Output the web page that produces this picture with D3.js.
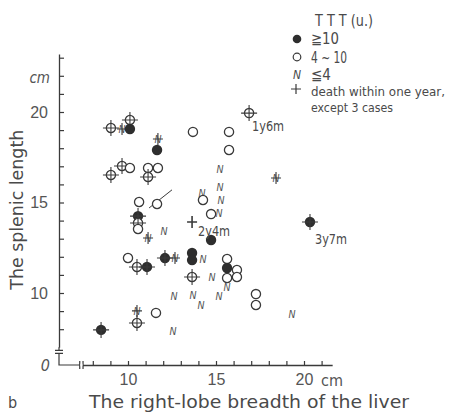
<!DOCTYPE html>
<html>
<head>
<meta charset="utf-8">
<script src="https://cdn.jsdelivr.net/npm/d3@7"></script>
<style>
  body { margin: 0; background: #fff; }
  svg { display: block; font-family: "DejaVu Sans", sans-serif; font-stretch: condensed; }
</style>
</head>
<body>
<svg id="chart" width="450" height="412"></svg>
<script>
// valores (cm)
const liverBreadth = [9.03, 9.66, 10.11, 10.11, 11.70, 11.65, 9.66, 10.11, 9.03, 11.14,
  11.70, 11.14, 11.65, 10.63, 10.57, 10.57, 10.57, 13.69, 15.74, 15.74,
  16.88, 15.23, 15.23, 15.28, 14.20, 14.26, 14.72, 15.17, 18.41, 13.64,
  14.72, 20.34, 12.05, 11.14, 10.00, 10.51, 11.08, 12.10, 12.67, 13.64,
  13.64, 14.26, 13.64, 14.77, 13.69, 14.15, 15.17, 15.63, 15.63, 16.19,
  16.19, 15.63, 15.63, 17.27, 17.27, 19.32, 12.61, 10.51, 11.59, 10.51,
  12.56, 8.47];
const splenicLength = [19.12, 19.06, 19.56, 19.06, 18.51, 17.90, 17.02, 16.91, 16.52, 16.91,
  16.91, 16.41, 14.92, 15.03, 14.25, 13.87, 13.54, 18.90, 18.90, 17.90,
  19.94, 16.85, 15.86, 15.13, 15.52, 15.14, 14.36, 14.42, 16.35, 13.92,
  12.93, 13.92, 13.43, 13.04, 11.93, 11.44, 11.44, 11.93, 11.93, 12.21,
  11.82, 11.88, 10.88, 10.88, 9.89, 9.34, 9.83, 11.88, 11.38, 11.27,
  10.88, 10.83, 10.33, 9.94, 9.34, 8.84, 9.83, 9.01, 8.90, 8.34,
  7.90, 7.96];
// TTT: "hi" >=10, "mid" 4~10, "lo" <=4, "" sem grupo
const tttGroup = ["mid", "lo", "mid", "hi", "lo", "hi", "mid", "mid", "mid", "mid",
  "mid", "mid", "mid", "mid", "hi", "mid", "mid", "mid", "mid", "mid",
  "mid", "lo", "lo", "lo", "lo", "mid", "mid", "lo", "lo", "",
  "hi", "hi", "lo", "lo", "mid", "mid", "hi", "hi", "lo", "hi",
  "hi", "lo", "mid", "lo", "lo", "lo", "lo", "mid", "hi", "mid",
  "mid", "mid", "lo", "mid", "mid", "lo", "lo", "lo", "mid", "mid",
  "lo", "hi"];
const diedWithinYear = [1, 1, 1, 0, 1, 0, 1, 0, 1, 0,
  0, 1, 0, 0, 1, 1, 0, 0, 0, 0,
  1, 0, 0, 0, 0, 0, 0, 0, 1, 1,
  0, 1, 0, 1, 0, 1, 1, 1, 1, 0,
  0, 0, 1, 0, 0, 0, 0, 0, 0, 0,
  0, 0, 0, 0, 0, 0, 0, 1, 0, 1,
  0, 1];
const noteX = [16.88, 13.64, 20.34];
const noteY = [19.94, 13.92, 13.92];
const noteText = ["1y6m", "2y4m", "3y7m"];
const handStroke = [[11.2, 14.7], [12.5, 15.7]];
const xTicks = [8, 9, 10, 11, 12, 13, 14, 15, 16, 17, 18, 19, 20, 21];
const yTicks = [8, 9, 10, 11, 12, 13, 14, 15, 16, 17, 18, 19, 20, 21, 22, 23];
const labelledTicks = [10, 15, 20];
const legendItems = ["≧10", "4 ~ 10", "≦4", "death within one year,", "except 3 cases"];

const ink = "#3a3a3a";
const txt = "#4a4a4a";
const svg = d3.select("#chart");

const x = d3.scaleLinear().domain([7.4, 21.6]).range([128 - 2.6 * 17.6, 128 + 11.6 * 17.6]);
const y = d3.scaleLinear().domain([7.0, 23.2]).range([293 + 3 * 18.1, 293 - 13.2 * 18.1]);

const axisX = 59, axisY = 365;

// eixo y
const gy = svg.append("g").attr("transform", `translate(${axisX},0)`);
gy.call(d3.axisLeft(y).tickValues(yTicks).tickSizeInner(-5).tickSizeOuter(0).tickPadding(11)
  .tickFormat(d => labelledTicks.includes(d) ? d : ""));
gy.select(".domain").attr("stroke", ink).attr("stroke-width", 1.3);
gy.selectAll(".tick line").attr("stroke", ink).attr("stroke-width", 1.2);
gy.selectAll(".tick text").attr("fill", "#555").attr("font-size", 16).attr("font-family", "inherit");

// eixo x
const gx = svg.append("g").attr("transform", `translate(0,${axisY})`);
gx.call(d3.axisBottom(x).tickValues(xTicks).tickSizeInner(-4).tickSizeOuter(0).tickPadding(9)
  .tickFormat(d => labelledTicks.includes(d) ? d : ""));
gx.select(".domain").attr("stroke", ink).attr("stroke-width", 1.3);
gx.selectAll(".tick line").attr("stroke", ink).attr("stroke-width", 1.2);
gx.selectAll(".tick text").attr("fill", "#555").attr("font-size", 16).attr("font-family", "inherit");

// quebras dos eixos
const brk = svg.append("g").attr("stroke", ink).attr("stroke-width", 1.2).attr("fill", "none");
brk.append("path").attr("d", `M${axisX},${y(7.0)}V${axisY}H${x(7.4)}`);
brk.append("path").attr("d", `M${axisX - 4},${y(7.0) + 4.5}h8`).attr("stroke", "#fff").attr("stroke-width", 2.5);
brk.append("path").attr("d", `M${axisX - 4},${y(7.0) + 3}h8M${axisX - 4},${y(7.0) + 6}h8`);
svg.append("path").attr("d", `M${x(7.4) - 2},${axisY}h2.2`).attr("stroke", "#fff").attr("stroke-width", 2.5);
brk.append("path").attr("d", `M${x(7.4) - 2.5},${axisY - 4}v8M${x(7.4) + 0.8},${axisY - 4}v8`);

svg.append("text").attr("x", axisX - 9).attr("y", axisY + 6).attr("text-anchor", "end")
  .attr("fill", "#555").attr("font-size", 16).attr("font-style", "italic").text("0");
svg.append("text").attr("x", 50).attr("y", y(21.6)).attr("text-anchor", "end")
  .attr("fill", "#555").attr("font-size", 15).attr("font-style", "italic").text("cm");
svg.append("text").attr("x", x(20) + 17).attr("y", axisY + 21)
  .attr("fill", "#555").attr("font-size", 16).text("cm");

svg.append("text").attr("transform", `translate(23,${y(14.6)}) rotate(-90)`).attr("text-anchor", "middle")
  .attr("fill", txt).attr("font-size", 17).attr("textLength", 160).attr("lengthAdjust", "spacingAndGlyphs")
  .text("The splenic length");
svg.append("text").attr("x", 89).attr("y", 408)
  .attr("fill", txt).attr("font-size", 17).attr("textLength", 320).attr("lengthAdjust", "spacingAndGlyphs")
  .text("The right-lobe breadth of the liver");
svg.append("text").attr("x", 8).attr("y", 408).attr("fill", txt).attr("font-size", 16).text("b");

// traço à mão
svg.append("path").attr("d", d3.line().x(d => x(d[0])).y(d => y(d[1]))(handStroke))
  .attr("stroke", ink).attr("stroke-width", 1);

// pontos
const pts = liverBreadth.map((v, i) => ({ x: v, y: splenicLength[i], g: tttGroup[i], d: diedWithinYear[i] }));
const marks = svg.append("g").selectAll("g").data(pts).join("g")
  .attr("transform", d => `translate(${x(d.x)},${y(d.y)})`);

marks.filter(d => d.g === "mid").append("circle").attr("r", 4.6)
  .attr("fill", "#fff").attr("stroke", ink).attr("stroke-width", 1.3);
marks.filter(d => d.g === "hi").append("circle").attr("r", 5.2)
  .attr("fill", "#2e2e2e");
marks.filter(d => d.g === "lo").append("text").attr("text-anchor", "middle").attr("dy", "0.36em")
  .attr("font-size", 10.5).attr("font-style", "italic").attr("fill", "#555").text("N");
marks.filter(d => d.d === 1).append("path")
  .attr("d", d => d.g === "lo" || d.g === "" ? "M-5,0H5M0,-6V6" : "M-8,0H8M0,-8V8")
  .attr("stroke", ink).attr("stroke-width", d => d.g === "" ? 1.6 : 1.1);

const noteDx = [3, 6, 5], noteDy = [18, 14, 22];
svg.append("g").selectAll("text").data(noteText).join("text")
  .attr("x", (d, i) => x(noteX[i]) + noteDx[i]).attr("y", (d, i) => y(noteY[i]) + noteDy[i])
  .attr("fill", txt).attr("font-size", 14).attr("textLength", 32).attr("lengthAdjust", "spacingAndGlyphs")
  .text(d => d);

// legenda
const lg = svg.append("g").attr("fill", txt);
lg.append("text").attr("x", 315).attr("y", 26).attr("font-size", 15)
  .attr("textLength", 58).attr("lengthAdjust", "spacingAndGlyphs").text("T T T (u.)");
lg.append("circle").attr("cx", 297).attr("cy", 39).attr("r", 4.3).attr("fill", "#2e2e2e");
lg.append("circle").attr("cx", 297).attr("cy", 57).attr("r", 3.8).attr("fill", "#fff").attr("stroke", ink).attr("stroke-width", 1.2);
lg.append("text").attr("x", 297).attr("y", 79).attr("text-anchor", "middle").attr("font-size", 12).attr("font-style", "italic").text("N");
lg.append("path").attr("d", "M291,89h10M296,84v10").attr("stroke", ink).attr("stroke-width", 1.2);
const legW = [28, 36, 20, 134, 82];
lg.selectAll(".li").data(legendItems).join("text").attr("class", "li")
  .attr("x", 311).attr("y", (d, i) => [44, 63, 80, 96, 112][i])
  .attr("font-size", (d, i) => i < 3 ? 15 : 13)
  .attr("textLength", (d, i) => legW[i]).attr("lengthAdjust", "spacingAndGlyphs").text(d => d);
</script>
</body>
</html>
